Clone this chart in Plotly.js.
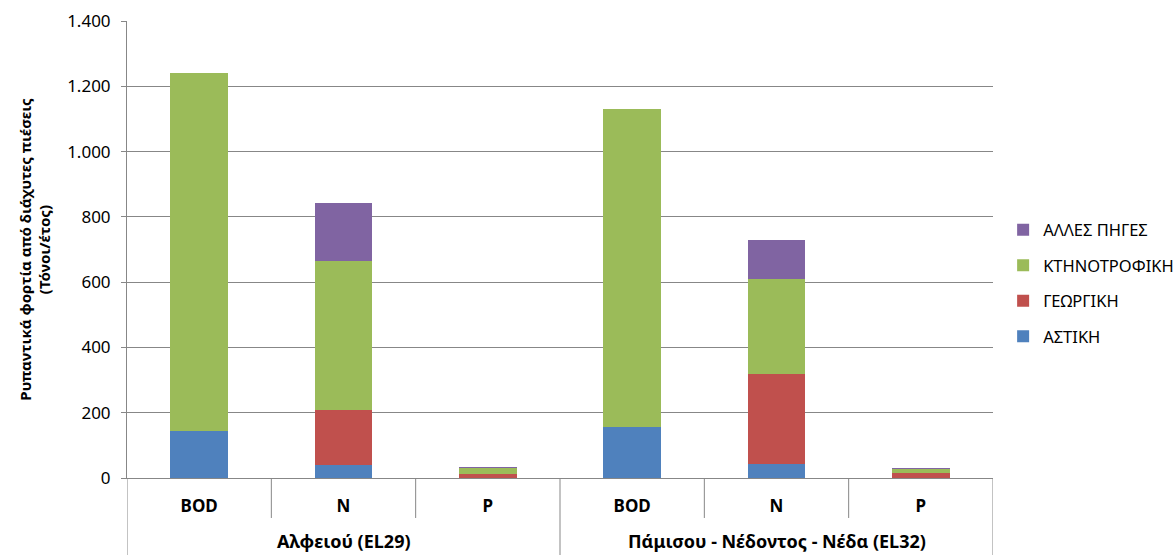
<!DOCTYPE html>
<html>
<head>
<meta charset="utf-8">
<script src="https://cdn.plot.ly/plotly-3.0.1.min.js"></script>
<style>html,body{margin:0;padding:0;background:#fff;}#chart{width:1176px;height:555px;}</style>
</head>
<body>
<div id="chart"></div>
<script>
// ---- data ----
const categories = ['BOD', 'N', 'P', 'BOD', 'N', 'P'];
const groups = ['Αλφειού (EL29)', 'Πάμισου - Νέδοντος - Νέδα (EL32)'];
const groupCenters = [1, 4];
const seriesNames = ['ΑΣΤΙΚΗ', 'ΓΕΩΡΓΙΚΗ', 'ΚΤΗΝΟΤΡΟΦΙΚΗ', 'ΑΛΛΕΣ ΠΗΓΕΣ'];
const astiki = [145, 40, 1, 155, 42, 1];
const georgiki = [0, 167, 12, 0, 277, 15];
const ktinotrofiki = [1097, 458, 18, 975, 292, 11];
const alles = [0, 177, 3, 0, 117, 4];
const yTicks = [0, 200, 400, 600, 800, 1000, 1200, 1400];

const colors = ['#4F81BD', '#C0504D', '#9BBB59', '#8064A2'];
const values = [astiki, georgiki, ktinotrofiki, alles];
const xpos = categories.map((c, i) => i);
const FONT = 'Noto Sans, Open Sans, DejaVu Sans, sans-serif';
const GRAY = '#878787';

const traces = values.map((v, k) => ({
  type: 'bar',
  name: seriesNames[k],
  legendgroup: 'g' + k,
  legendrank: values.length - k,
  x: xpos,
  y: v,
  width: 0.4,
  marker: {color: colors[k], line: {width: 0}},
  hoverinfo: 'skip'
}));

// divider lines below the category axis
const shapes = [];
for (let i = 0; i <= categories.length; i++) {
  const xv = i - 0.5;
  const isGroupEdge = (i === 0 || i === 3 || i === categories.length);
  shapes.push({
    type: 'line', xref: 'x', yref: 'paper',
    x0: xv, x1: xv, y0: 0, y1: isGroupEdge ? -0.1685 : -0.0875,
    line: {color: GRAY, width: 1}
  });
}

const annotations = groups.map((g, i) => ({
  text: '<b>' + g + '</b>',
  xref: 'x', yref: 'paper',
  x: groupCenters[i], y: -0.168,
  xanchor: 'center', yanchor: 'bottom',
  showarrow: false,
  font: {family: FONT, size: 18, color: '#000'}
}));

const layout = {
  width: 1176, height: 555,
  margin: {l: 127, r: 183, t: 21, b: 77},
  paper_bgcolor: '#fff', plot_bgcolor: '#fff',
  barmode: 'stack',
  separators: ',.',
  font: {family: FONT, size: 15, color: '#000'},
  showlegend: true,
  legend: {
    xref: 'container', yref: 'container',
    x: 0.853, xanchor: 'left', y: 0.49, yanchor: 'middle',
    traceorder: 'grouped', tracegroupgap: 11,
    font: {family: FONT, size: 16.5, color: '#000'},
    bgcolor: 'rgba(0,0,0,0)'
  },
  xaxis: {
    range: [-0.5, categories.length - 0.5],
    tickmode: 'array', tickvals: xpos,
    ticktext: categories.map(c => '<b>' + c + '</b>'),
    ticks: '', showgrid: false, zeroline: false,
    showline: true, linecolor: GRAY, linewidth: 1,
    ticklabelstandoff: 13,
    tickfont: {family: FONT, size: 17, color: '#000'},
    automargin: false,
    fixedrange: true
  },
  yaxis: {
    range: [0, 1400],
    tickmode: 'array', tickvals: yTicks,
    tickformat: ',d',
    showgrid: true, gridcolor: GRAY, gridwidth: 1,
    zeroline: false,
    showline: true, linecolor: GRAY, linewidth: 1,
    ticks: 'outside', ticklen: 5, tickcolor: GRAY,
    ticklabelstandoff: 7,
    tickfont: {family: FONT, size: 17, color: '#000'},
    title: {
      text: '<b>Ρυπαντικά φορτία από διάχυτες πιέσεις<br>(Τόνοι/έτος)</b>',
      font: {family: FONT, size: 15, color: '#000'},
      standoff: 12
    },
    automargin: false,
    fixedrange: true
  },
  shapes: shapes,
  annotations: annotations
};

Plotly.newPlot('chart', traces, layout, {displayModeBar: false, staticPlot: true});
</script>
</body>
</html>
